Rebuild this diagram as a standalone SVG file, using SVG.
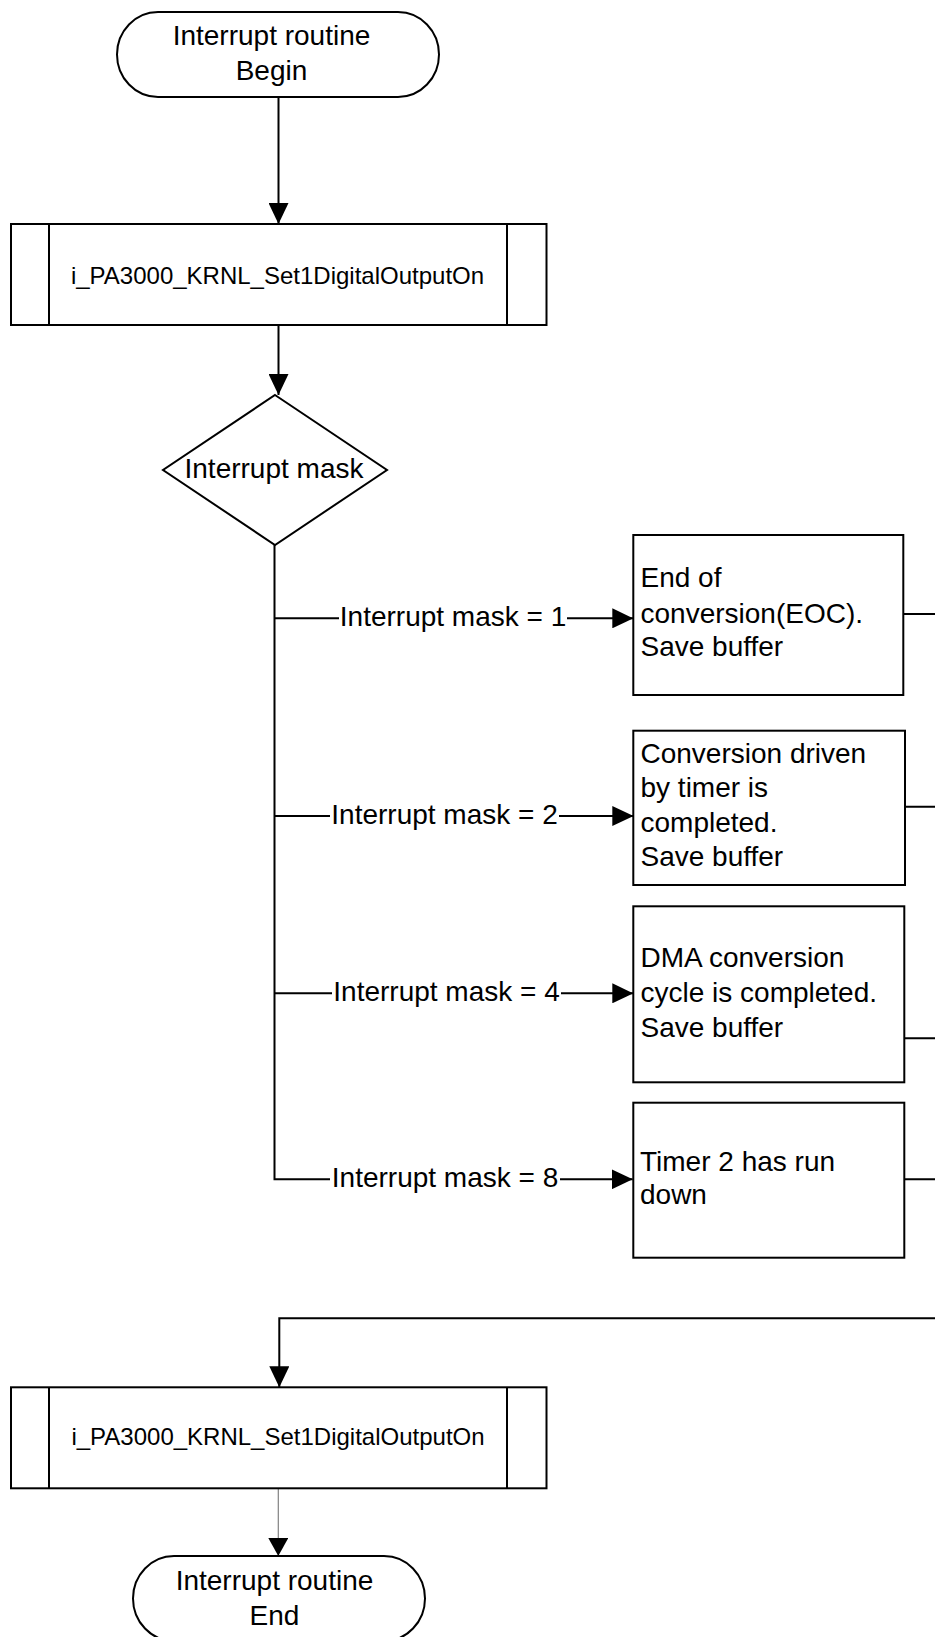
<svg xmlns="http://www.w3.org/2000/svg" width="935" height="1637" viewBox="0 0 935 1637">
  <style>
    .shape { fill: #ffffff; stroke: #000000; stroke-width: 2; }
    .edge { fill: none; stroke: #000000; stroke-width: 2; }
    .thin { fill: none; stroke: #808080; stroke-width: 1.2; }
    .sep { stroke: #000000; stroke-width: 2; }
    text { font-family: "Liberation Sans", Arial, sans-serif; font-size: 28px; fill: #000000; }
    .mid { text-anchor: middle; }
    .proc { font-size: 24px; }
    .lblbg { fill: #ffffff; stroke: none; }
  </style>
  <defs>
    <marker id="arrow" markerUnits="userSpaceOnUse" markerWidth="21" markerHeight="20" refX="21" refY="10" orient="auto">
      <path d="M0,0 L21,10 L0,20 Z" fill="#000000"/>
    </marker>
    <marker id="arrowShort" markerUnits="userSpaceOnUse" markerWidth="18" markerHeight="20" refX="18" refY="10" orient="auto">
      <path d="M0,0 L18,10 L0,20 Z" fill="#000000"/>
    </marker>
  </defs>

  <rect x="0" y="0" width="935" height="1637" fill="#ffffff"/>

  <!-- connectors -->
  <g id="connectors">
    <path class="edge" d="M278.5,97 V224" marker-end="url(#arrow)"/>
    <path class="edge" d="M278.5,325 V395" marker-end="url(#arrow)"/>
    <!-- decision trunk and branches -->
    <path class="edge" d="M274.5,545 V1179.3 H632.7" marker-end="url(#arrow)"/>
    <path class="edge" d="M274.5,618.3 H633.3" marker-end="url(#arrow)"/>
    <path class="edge" d="M274.5,816 H633.3" marker-end="url(#arrow)"/>
    <path class="edge" d="M274.5,993.3 H633.3" marker-end="url(#arrow)"/>
    <!-- branch labels -->
    <g id="label-mask1">
      <rect class="lblbg" x="339" y="605" width="228" height="26"/>
      <text class="mid" x="453" y="626.3">Interrupt mask = 1</text>
    </g>
    <g id="label-mask2">
      <rect class="lblbg" x="330" y="803" width="229" height="26"/>
      <text class="mid" x="444.5" y="824">Interrupt mask = 2</text>
    </g>
    <g id="label-mask4">
      <rect class="lblbg" x="332" y="980" width="229" height="26"/>
      <text class="mid" x="446.5" y="1001.3">Interrupt mask = 4</text>
    </g>
    <g id="label-mask8">
      <rect class="lblbg" x="330" y="1166" width="230" height="26"/>
      <text class="mid" x="445" y="1187.3">Interrupt mask = 8</text>
    </g>
    <!-- box exits run to the merge line beyond the right edge -->
    <path class="edge" d="M903.3,614 H960 V1318.3"/>
    <path class="edge" d="M905,806.7 H960"/>
    <path class="edge" d="M904.3,1038.3 H960"/>
    <path class="edge" d="M904.3,1179.3 H960"/>
    <path class="edge" d="M960,1318.3 H279.3 V1387.3" marker-end="url(#arrow)"/>
    <path class="thin" d="M278.3,1488.3 V1556" marker-end="url(#arrowShort)"/>
  </g>

  <!-- start terminator -->
  <g id="start">
    <rect class="shape" x="117" y="12" width="322" height="85" rx="41" ry="42.5"/>
    <text class="mid" x="271.5" y="45">Interrupt routine</text>
    <text class="mid" x="271.5" y="80">Begin</text>
  </g>

  <!-- predefined process: set digital output -->
  <g id="set-output-1">
    <rect class="shape" x="11" y="224" width="535.5" height="101"/>
    <line class="sep" x1="49" y1="224" x2="49" y2="325"/>
    <line class="sep" x1="507" y1="224" x2="507" y2="325"/>
    <text class="mid proc" x="277.5" y="284">i_PA3000_KRNL_Set1DigitalOutputOn</text>
  </g>

  <!-- decision -->
  <g id="mask-decision">
    <polygon class="shape" points="275,395 387,470 275,545 163,470"/>
    <text class="mid" x="274" y="478">Interrupt mask</text>
  </g>

  <g id="eoc">
    <rect class="shape" x="633.3" y="535" width="270" height="160"/>
    <text x="640.5" y="587.3">End of</text>
    <text x="640.5" y="622.7">conversion(EOC).</text>
    <text x="640.5" y="656">Save buffer</text>
  </g>

  <g id="timer-conversion">
    <rect class="shape" x="633.3" y="730.7" width="271.7" height="154.3"/>
    <text x="640.5" y="763.3">Conversion driven</text>
    <text x="640.5" y="796.7">by timer is</text>
    <text x="640.5" y="831.7">completed.</text>
    <text x="640.5" y="866">Save buffer</text>
  </g>

  <g id="dma-cycle">
    <rect class="shape" x="633.3" y="906.3" width="271" height="176"/>
    <text x="640.5" y="967.3">DMA conversion</text>
    <text x="640.5" y="1001.7">cycle is completed.</text>
    <text x="640.5" y="1036.7">Save buffer</text>
  </g>

  <g id="timer2">
    <rect class="shape" x="633.3" y="1102.7" width="271" height="155"/>
    <text x="640" y="1171">Timer 2 has run</text>
    <text x="640" y="1204.3">down</text>
  </g>

  <g id="set-output-2">
    <rect class="shape" x="11" y="1387.3" width="535.5" height="101"/>
    <line class="sep" x1="49" y1="1387.3" x2="49" y2="1488.3"/>
    <line class="sep" x1="507" y1="1387.3" x2="507" y2="1488.3"/>
    <text class="mid proc" x="278" y="1445">i_PA3000_KRNL_Set1DigitalOutputOn</text>
  </g>

  <!-- end terminator -->
  <g id="end">
    <rect class="shape" x="133" y="1556" width="292" height="85" rx="41" ry="42.5"/>
    <text class="mid" x="274.5" y="1590">Interrupt routine</text>
    <text class="mid" x="274.5" y="1625">End</text>
  </g>
</svg>
